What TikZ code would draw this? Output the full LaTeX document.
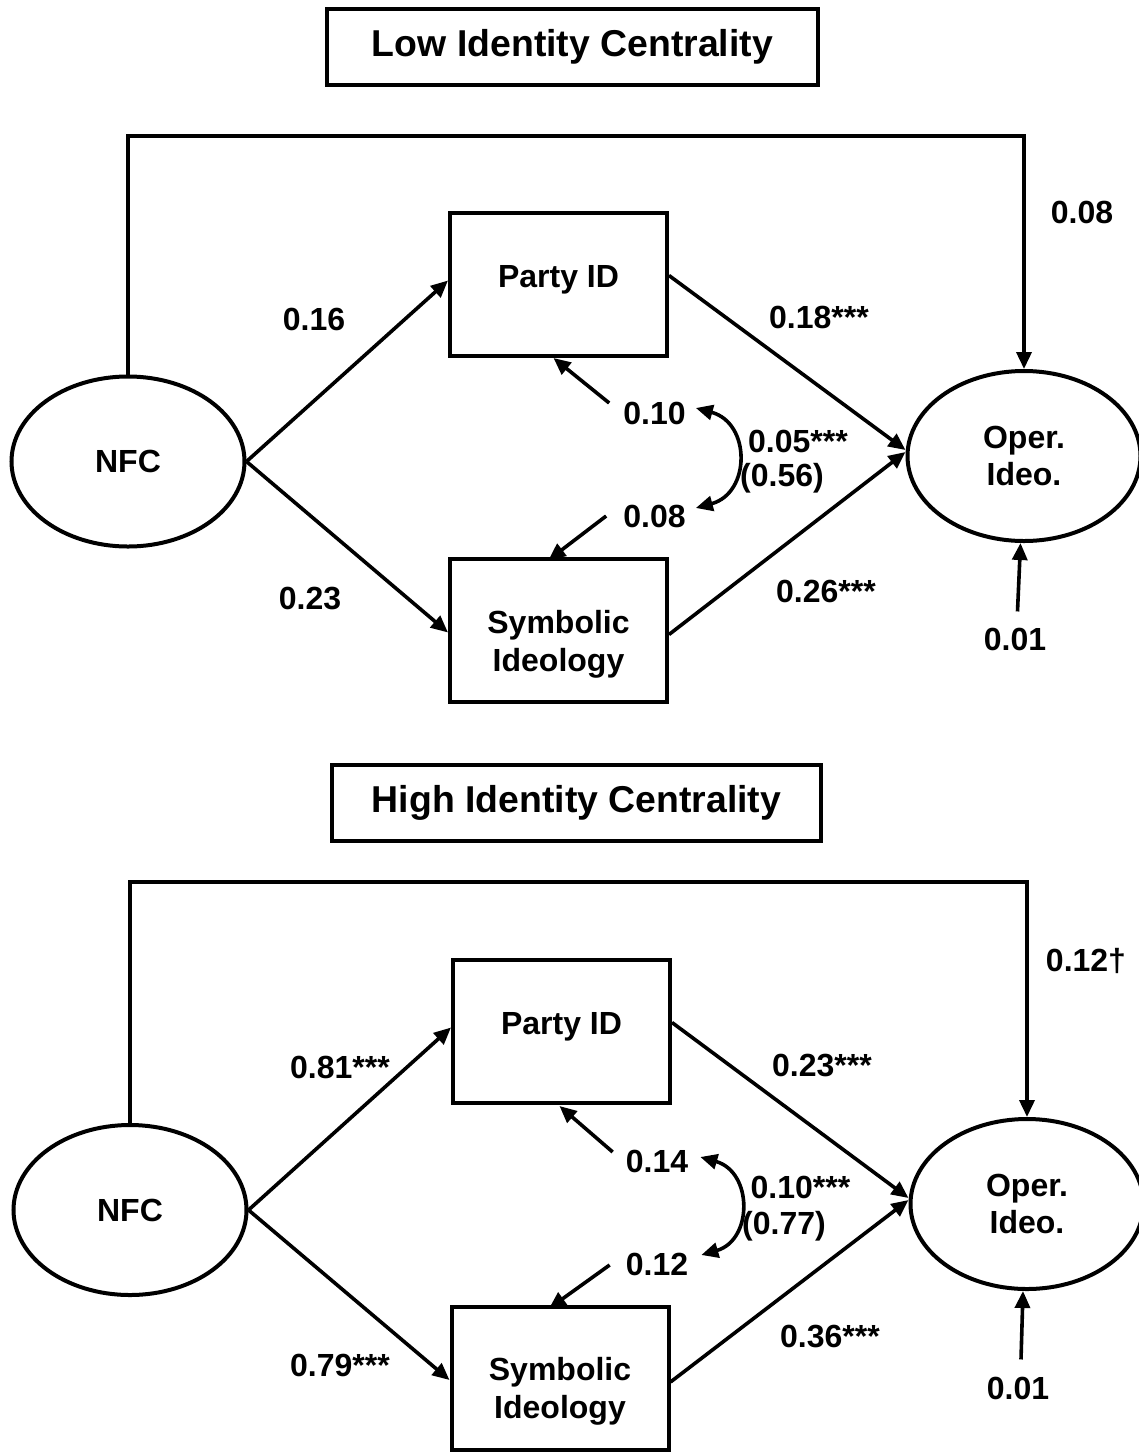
\documentclass[tikz,border=0pt]{standalone}
\usepackage{fontspec}
\setmainfont{Liberation Sans}
\usetikzlibrary{shapes.geometric,arrows.meta,calc}
\begin{document}
\begin{tikzpicture}[x=1pt,y=-1pt,
  lblA/.style={font=\fontsize{32}{37}\selectfont\bfseries, inner sep=0pt, anchor=base},
  titleA/.style={draw, line width=4.5pt, minimum width=491pt, minimum height=76pt, inner sep=0pt, font=\fontsize{37.4}{44}\selectfont\bfseries},
  boxA/.style={draw, line width=4pt, minimum width=217pt, minimum height=143pt, inner sep=0pt},
  latA/.style={draw, ellipse, line width=4pt, minimum width=233pt, minimum height=170pt, inner sep=0pt, align=center, font=\fontsize{32}{37}\selectfont\bfseries},
  pathA/.style={line width=3.6pt, -{Triangle[length=17pt,width=15pt]}},
  covA/.style={line width=3.6pt, {Triangle[length=17pt,width=15pt]}-{Triangle[length=17pt,width=15pt]}}
]
\fill[white] (0,0) rectangle (1139,1452);
\useasboundingbox (0,0) rectangle (1139,1452);

% ================= Top panel =================
\node[titleA] (t1) at (572.5,47) {Low Identity Centrality};
\coordinate (top1) at (0,136);
\node[latA] (nfc1) at (128,461.5) {NFC};
\node[boxA] (pid1) at (558.5,284.5) {};
\node[lblA] (pidT1) at (558.5,287.3) {Party ID};
\node[boxA] (sym1) at (558.5,630.5) {};
\node[lblA] (symT1a) at (558.5,633) {Symbolic};
\node[lblA] (symT1b) at (558.5,671) {Ideology};
\node[latA] (op1) at (1024,456) {Oper.\\Ideo.};

\draw[pathA] (nfc1.north) -- (nfc1.north |- top1) -| (op1.north);
\draw[pathA] (nfc1.east) -- ($(pid1.west)+(0,-4)$);
\draw[pathA] (nfc1.east) -- ($(sym1.west)+(0,2)$);
\draw[pathA] ($(pid1.east)+(0,-9)$) -- ($(op1.west)+(0,-6)$);
\draw[pathA] ($(sym1.east)+(0,4)$) -- ($(op1.west)+(0,-4)$);

\node[lblA] (l16) at (314,330) {0.16};
\node[lblA] (l23) at (310,609) {0.23};
\node[lblA] (l18) at (819,328) {0.18***};
\node[lblA] (l26) at (826,602) {0.26***};
\node[lblA] (l05) at (798,452) {0.05***};
\node[lblA] (l56) at (782,486) {(0.56)};
\node[lblA] (l08) at (1082,223) {0.08};

\node[lblA] (r1a) at (654.5,424) {0.10};
\node[lblA] (r1b) at (654.5,527) {0.08};
\draw[pathA] ($(r1a.west)+(-14,-10)$) -- ($(pid1.south)+(-5,0)$);
\draw[pathA] ($(r1b.west)+(-17,0)$) -- ($(sym1.north)+(-10,3)$);
\coordinate (c1a) at ($(r1a.east)+(10,-5)$);
\coordinate (c1b) at ($(r1b.east)+(10,-8)$);
\draw[covA] (c1a) .. controls (751,423) and (751,493) .. (c1b);

\node[lblA] (e1) at (1015,650) {0.01};
\draw[pathA] ($(e1.north)+(2.5,-16)$) -- ($(op1.south)+(-3.5,0)$);

% ================= Bottom panel =================
\node[titleA, minimum width=489pt] (t2) at (576.5,803) {High Identity Centrality};
\coordinate (top2) at (0,882);
\node[latA] (nfc2) at (130,1210) {NFC};
\node[boxA] (pid2) at (561.5,1031.5) {};
\node[lblA] (pidT2) at (561.5,1034.3) {Party ID};
\node[boxA] (sym2) at (560,1378) {};
\node[lblA] (symT2a) at (560,1380) {Symbolic};
\node[lblA] (symT2b) at (560,1418) {Ideology};
\node[latA] (op2) at (1027,1204) {Oper.\\Ideo.};

\draw[pathA] (nfc2.north) -- (nfc2.north |- top2) -| (op2.north);
\draw[pathA] (nfc2.east) -- ($(pid2.west)+(0,-4)$);
\draw[pathA] (nfc2.east) -- ($(sym2.west)+(0,2)$);
\draw[pathA] ($(pid2.east)+(0,-9)$) -- ($(op2.west)+(0,-6)$);
\draw[pathA] ($(sym2.east)+(0,4)$) -- ($(op2.west)+(0,-4)$);

\node[lblA] (l81) at (340,1078) {0.81***};
\node[lblA] (l79) at (340,1376) {0.79***};
\node[lblA] (l23b) at (822,1076) {0.23***};
\node[lblA] (l36) at (830,1347) {0.36***};
\node[lblA] (l10) at (800.5,1198) {0.10***};
\node[lblA] (l77) at (784,1234) {(0.77)};
\node[lblA] (l12d) at (1086,971) {0.12†};

\node[lblA] (r2a) at (657,1172) {0.14};
\node[lblA] (r2b) at (657,1275) {0.12};
\draw[pathA] ($(r2a.west)+(-13,-9)$) -- ($(pid2.south)+(-2,1)$);
\draw[pathA] ($(r2b.west)+(-16,1)$) -- ($(sym2.north)+(-11,4)$);
\coordinate (c2a) at ($(r2a.east)+(12,-4)$);
\coordinate (c2b) at ($(r2b.east)+(13,-9)$);
\draw[covA] (c2a) .. controls (753,1172) and (753,1240) .. (c2b);

\node[lblA] (e2) at (1018,1399) {0.01};
\draw[pathA] ($(e2.north)+(3,-17)$) -- ($(op2.south)+(-4,0)$);
\end{tikzpicture}
\end{document}
